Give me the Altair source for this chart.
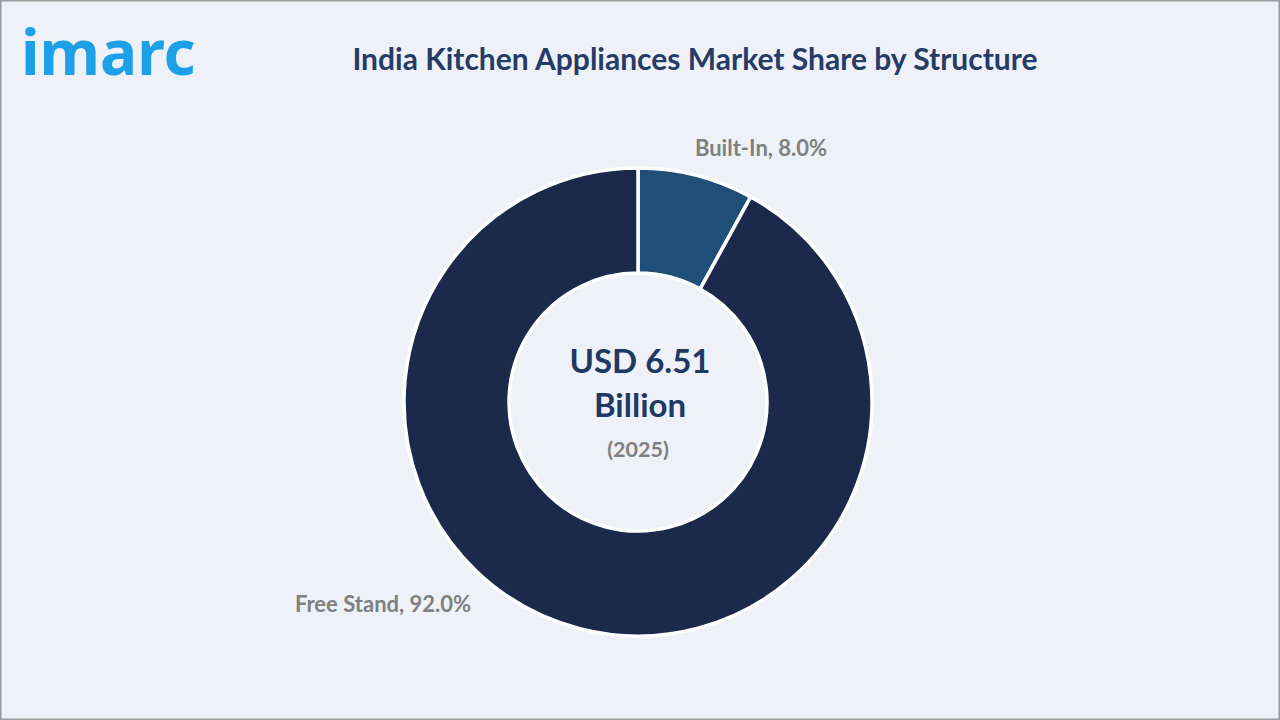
import altair as alt
import pandas as pd

categories = ["Built-In", "Free Stand"]
shares = [8.0, 92.0]
colors = ["#1f4e79", "#1b2a4a"]
title_text = "India Kitchen Appliances Market Share by Structure"
center_lines = ["USD 6.51", "Billion", "(2025)"]

df = pd.DataFrame({"category": categories, "share": shares, "order": list(range(len(categories)))})

W, H = 1280, 720
CX, CY = 638, 402
FONT = "Lato"

base = alt.Chart(df)

donut = base.mark_arc(radius=234, radius2=129, stroke="#ffffff", strokeWidth=3.5).encode(
    theta=alt.Theta("share:Q", stack=True),
    order=alt.Order("order:Q"),
    color=alt.Color("category:N", scale=alt.Scale(domain=categories, range=colors), legend=None),
    x=alt.value(CX),
    y=alt.value(CY),
)

def seg_label(cat, x, y):
    return base.transform_filter(alt.datum.category == cat).transform_calculate(
        lbl=alt.datum.category + ", " + alt.expr.format(alt.datum.share, ".1f") + "%"
    ).mark_text(font=FONT, fontSize=22, fontWeight="bold", color="#808080", align="center", baseline="middle").encode(
        text="lbl:N", x=alt.value(x), y=alt.value(y)
    )

lab1 = seg_label("Built-In", 761, 149)
lab2 = seg_label("Free Stand", 383, 605)

def txt(s, x, y, size, color, weight="bold", align="center", font=FONT, baseline="middle"):
    return alt.Chart(pd.DataFrame({"t": [s]})).mark_text(
        font=font, fontSize=size, fontWeight=weight, color=color, align=align, baseline=baseline,
    ).encode(text="t:N", x=alt.value(x), y=alt.value(y))

title = txt(title_text, 695, 61, 30, "#263b66")
c1 = txt(center_lines[0], CX + 2, 363, 33, "#1f3864")
c2 = txt(center_lines[1], CX + 2, 407, 33, "#1f3864")
c3 = txt(center_lines[2], CX, 451, 21.5, "#808080")
logo = txt("imarc", 21, 75, 62, "#1ea0e8", weight="bold", align="left", font="Noto Sans",
           baseline="alphabetic")

chart = alt.layer(donut, lab1, lab2, title, c1, c2, c3, logo).properties(
    width=W, height=H, autosize=alt.AutoSizeParams(type="none"), padding=0
).configure(background="#eef2f8").configure_view(stroke="#9a9a9a", strokeWidth=3)

chart.save("out.html", embed_options={"renderer": "svg", "actions": False})
